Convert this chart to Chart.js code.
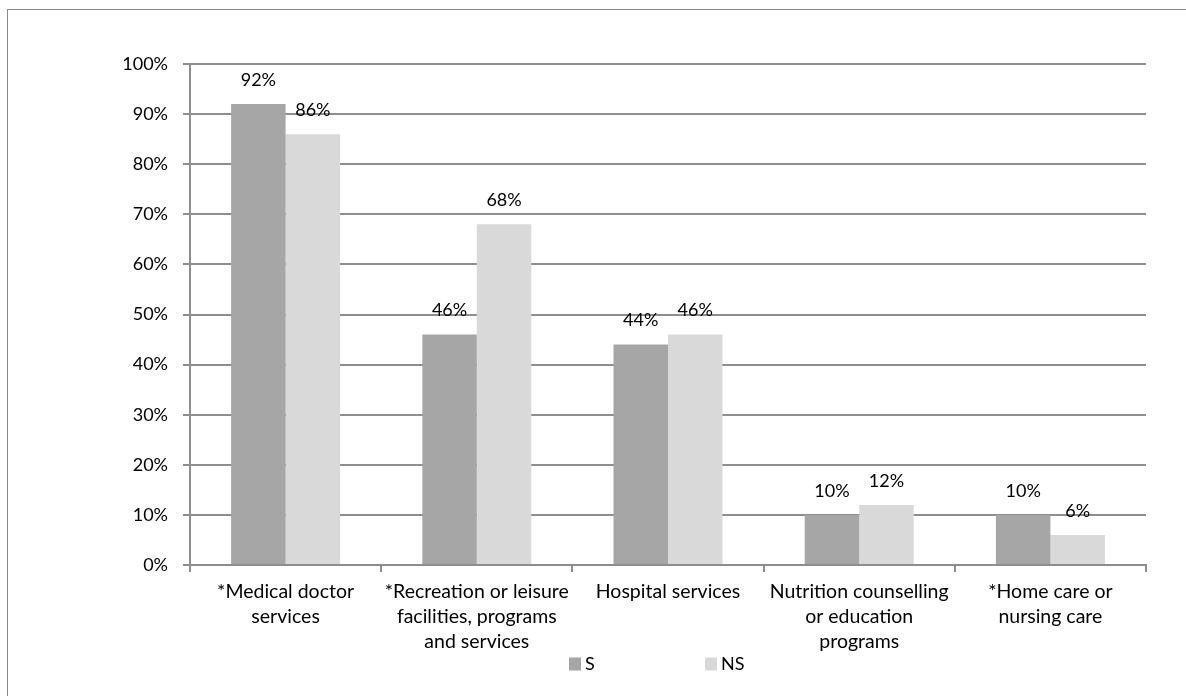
<!DOCTYPE html>
<html>
<head>
<meta charset="utf-8">
<script src="https://cdn.jsdelivr.net/npm/chart.js@4/dist/chart.umd.min.js"></script>
<style>
  html, body { margin: 0; padding: 0; background: #fff; overflow: hidden; }
  #frame {
    position: absolute; left: 7px; top: 9px; width: 1200px; height: 700px;
    border: 1px solid #8a8a8a; box-sizing: border-box;
  }
  #wrap { position: absolute; left: 0; top: 0; width: 1186px; height: 696px; }
</style>
</head>
<body>
<div id="frame"></div>
<div id="wrap"><canvas id="bars"></canvas></div>
<script>
let categories = [
  ["*Medical doctor", "services"],
  ["*Recreation or leisure", "facilities, programs", "and services"],
  ["Hospital services"],
  ["Nutrition counselling", "or education", "programs"],
  ["*Home care or", "nursing care"]
];
let seriesNames = ["S", "NS"];
let sValues = [92, 46, 44, 10, 10];
let nsValues = [86, 68, 46, 12, 6];
let seriesColors = ["#a6a6a6", "#d9d9d9"];

const FONT = "Lato, 'Open Sans', sans-serif";
const GRID = "#8e8e8e";

// percent labels sitting above each bar
const valueLabels = {
  id: "valueLabels",
  afterDatasetsDraw(chart) {
    let ctx = chart.ctx;
    ctx.save();
    ctx.font = `18px ${FONT}`;
    ctx.fillStyle = "#000";
    ctx.textAlign = "center";
    ctx.textBaseline = "middle";
    chart.data.datasets.forEach((ds, i) => {
      chart.getDatasetMeta(i).data.forEach((bar, j) => {
        ctx.fillText(ds.data[j] + "%", bar.x, bar.y - 24);
      });
    });
    ctx.restore();
  }
};

// legend row under the axis labels, items spread out like the office chart
const legendRow = {
  id: "legendRow",
  afterDraw(chart, args, opts) {
    let ctx = chart.ctx;
    ctx.save();
    ctx.font = `18px ${FONT}`;
    ctx.textBaseline = "middle";
    ctx.textAlign = "left";
    chart.data.datasets.forEach((ds, i) => {
      let x = opts.starts[i];
      ctx.fillStyle = ds.backgroundColor;
      ctx.fillRect(x, opts.y - 6.5, 12, 13);
      ctx.fillStyle = "#000";
      ctx.fillText(ds.label, x + 16, opts.y);
    });
    ctx.restore();
  }
};

new Chart(document.getElementById("bars"), {
  type: "bar",
  data: {
    labels: categories,
    datasets: [
      { label: seriesNames[0], data: sValues, backgroundColor: seriesColors[0] },
      { label: seriesNames[1], data: nsValues, backgroundColor: seriesColors[1] }
    ]
  },
  plugins: [valueLabels, legendRow],
  options: {
    responsive: true,
    maintainAspectRatio: false,
    animation: false,
    events: [],
    layout: { padding: { top: 64, right: 40, bottom: 0, left: 0 } },
    datasets: {
      bar: { categoryPercentage: 0.57, barPercentage: 1.0, borderWidth: 0 }
    },
    plugins: {
      legend: { display: false },
      tooltip: { enabled: false },
      legendRow: { y: 664, starts: [569, 705] }
    },
    scales: {
      x: {
        afterFit: (scale) => { scale.height = 131; },
        grid: {
          drawOnChartArea: false,
          drawTicks: true,
          tickLength: 7,
          color: GRID,
          lineWidth: 2,
          offset: true
        },
        border: { color: GRID, width: 2 },
        ticks: {
          color: "#000",
          padding: 7,
          maxRotation: 0,
          autoSkip: false,
          font: { family: FONT, size: 19.5, lineHeight: "25px" }
        }
      },
      y: {
        min: 0,
        max: 100,
        afterFit: (scale) => { scale.width = 190; },
        grid: { color: GRID, lineWidth: 2, tickLength: 7 },
        border: { color: GRID, width: 2 },
        ticks: {
          stepSize: 10,
          color: "#000",
          padding: 15,
          font: { family: FONT, size: 18 },
          callback: (v) => v + "%"
        }
      }
    }
  }
});
</script>
</body>
</html>
